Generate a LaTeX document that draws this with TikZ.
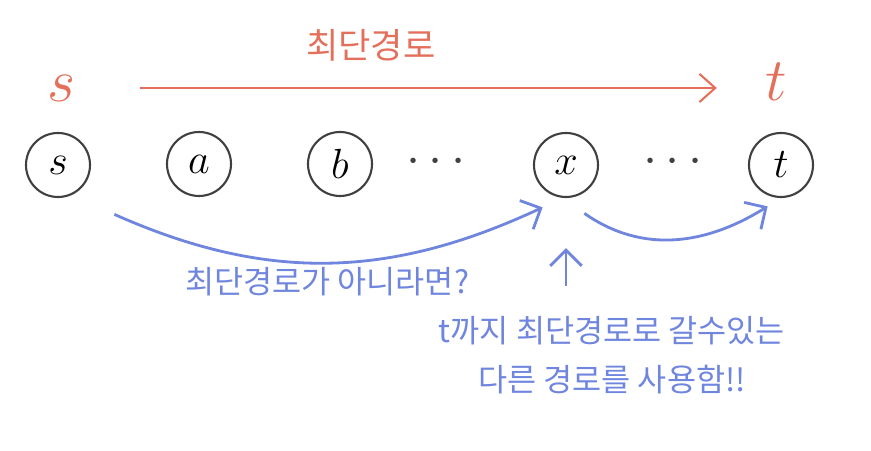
\documentclass[tikz,border=0pt]{standalone}
\usepackage{fontspec}
\newfontfamily\kr{Noto Sans CJK KR}
\usepackage{tikz}
\usetikzlibrary{arrows.meta,positioning,calc}

\definecolor{redpen}{RGB}{228,112,92}
\definecolor{bluepen}{RGB}{112,134,222}

\begin{document}
\begin{tikzpicture}[
    vtx/.style={draw=black!75, line width=0.6pt, circle, minimum size=0.64cm, inner sep=0pt, font=\fontsize{12}{12}\selectfont},
    dots/.style={font=\fontsize{14}{14}\selectfont, text=black!75},
    redarr/.style={-{Straight Barb[length=4.5pt,width=8pt]}, redpen, line width=0.6pt},
    bluearr/.style={-{Straight Barb[length=4.5pt,width=9pt]}, bluepen, line width=0.8pt},
    redtxt/.style={text=redpen, font=\kr\fontsize{10}{12}\selectfont},
    bluetxt/.style={text=bluepen, font=\kr\fontsize{9}{14}\selectfont, align=center}
]
\useasboundingbox (0,0) rectangle (8.71,-4.51);

% vertices along the path
\node[vtx] (s) at (0.58,-1.65) {$s$};
\node[vtx] (a) at (1.99,-1.64) {$a$};
\node[vtx] (b) at (3.40,-1.64) {$b$};
\node[dots] (d1) at (4.36,-1.62) {$\cdots$};
\node[vtx] (x) at (5.66,-1.65) {$x$};
\node[dots] (d2) at (6.73,-1.62) {$\cdots$};
\node[vtx] (t) at (7.81,-1.65) {$t$};

% shortest path on top
\node[text=redpen, font=\fontsize{17}{17}\selectfont] (S) at (0.62,-0.88) {$s$};
\node[text=redpen, font=\fontsize{18}{18}\selectfont] (T) at (7.76,-0.82) {$t$};
\draw[redarr, shorten <=0.52cm, shorten >=0.36cm] (S.east) -- (T.west |- S.east);
\node[redtxt] (sp) at (3.71,-0.45) {최단경로};

% detour through x
\draw[bluearr] ([shift={(0.33,-0.26)}]s.south east) to[out=-24,in=205] ([yshift=-0.19cm]x.south west);
\draw[bluearr] ([shift={(-0.05,-0.25)}]x.south east) to[out=-35,in=212] ([shift={(0.1,-0.18)}]t.south west);
\node[bluetxt] (q) at (3.27,-2.82) {최단경로가 아니라면?};

\node[bluetxt] (note) at (6.12,-3.55) {t까지 최단경로로 갈수있는\\다른 경로를 사용함!!};
\draw[bluearr, shorten <=0.18cm, shorten >=0.5cm] (note.north -| x) -- (x.south);
\end{tikzpicture}
\end{document}
